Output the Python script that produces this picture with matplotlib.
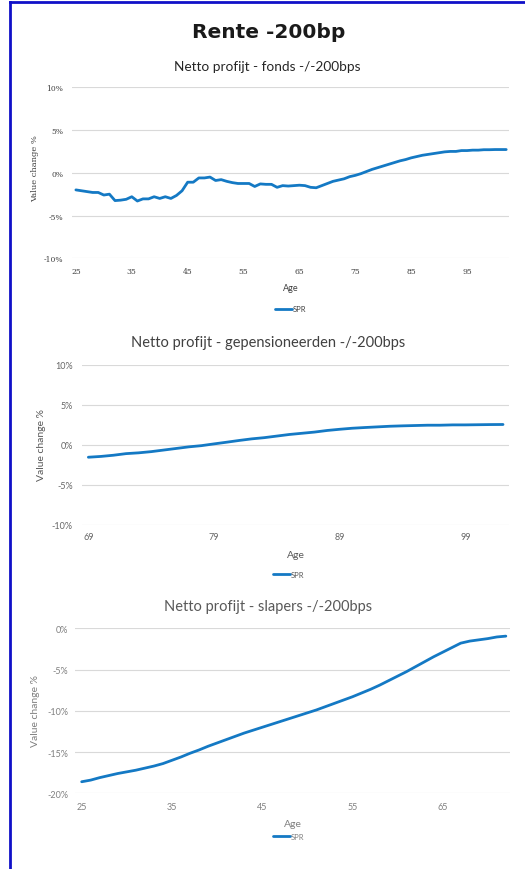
import matplotlib
matplotlib.use("Agg")
from matplotlib import pyplot as plt
from matplotlib.lines import Line2D

# ---- data (value change in %) ----
fonds_age = list(range(25, 103))
fonds_spr = [-2.0, -2.1, -2.2, -2.3, -2.3, -2.6, -2.5, -3.25, -3.2, -3.1,
             -2.8, -3.3, -3.05, -3.05, -2.8, -3.0, -2.8, -3.0, -2.65, -2.1,
             -1.1, -1.1, -0.6, -0.6, -0.5, -0.9, -0.8, -1.0, -1.15, -1.25,
             -1.25, -1.25, -1.6, -1.3, -1.35, -1.35, -1.7, -1.5, -1.55, -1.5,
             -1.45, -1.5, -1.7, -1.75, -1.5, -1.25, -1.0, -0.85, -0.7, -0.45,
             -0.3, -0.1, 0.15, 0.4, 0.6, 0.8, 1.0, 1.2, 1.4, 1.55,
             1.75, 1.9, 2.05, 2.15, 2.25, 2.35, 2.45, 2.5, 2.5, 2.6,
             2.6, 2.65, 2.65, 2.7, 2.7, 2.72, 2.72, 2.72]
fonds_xticks = [25, 35, 45, 55, 65, 75, 85, 95]

gep_age = list(range(69, 103))
gep_spr = [-1.55, -1.45, -1.3, -1.1, -1.0, -0.85, -0.65, -0.45, -0.25, -0.1,
           0.12, 0.33, 0.55, 0.75, 0.9, 1.1, 1.3, 1.45, 1.6, 1.8,
           1.95, 2.08, 2.17, 2.25, 2.33, 2.38, 2.42, 2.46, 2.46, 2.5,
           2.5, 2.52, 2.54, 2.55]
gep_xticks = [69, 79, 89, 99]

slap_age = list(range(25, 73))
slap_spr = [-18.6, -18.4, -18.1, -17.85, -17.6, -17.4, -17.2, -16.95, -16.7, -16.4,
            -16.0, -15.6, -15.15, -14.75, -14.3, -13.9, -13.5, -13.1, -12.7, -12.35,
            -12.0, -11.65, -11.3, -10.95, -10.6, -10.25, -9.9, -9.5, -9.1, -8.7,
            -8.3, -7.85, -7.4, -6.9, -6.35, -5.8, -5.25, -4.65, -4.05, -3.45,
            -2.9, -2.35, -1.8, -1.55, -1.4, -1.25, -1.05, -0.95]
slap_xticks = [25, 35, 45, 55, 65]

yticks_top = [10, 5, 0, -5, -10]
yticks_slap = [0, -5, -10, -15, -20]

W, H = 525, 870
LINE = "#1479c4"
GRID = "#d9d9d9"


def fx(px):
    return px / W


def fy(py):
    return 1 - py / H


def panel(rect_px, ages, values, xticks, yticks, xlim, style):
    """rect_px = (left, top, right, bottom) of the plot area in pixels"""
    l, t, r, b = rect_px
    ax = fig.add_axes([fx(l), fy(b), fx(r - l), (b - t) / H])
    ax.plot(ages, values, color=LINE, lw=2.0, solid_capstyle="round", label="SPR")
    ax.set_xlim(*xlim)
    ax.set_ylim(min(yticks), max(yticks))
    ax.set_yticks(yticks)
    ax.set_yticklabels(["{}%".format(v) for v in yticks])
    ax.set_xticks(xticks)
    ax.set_xticklabels([str(v) for v in xticks])
    ax.grid(axis="y", color=GRID, lw=0.8)
    ax.set_axisbelow(True)
    for s in ax.spines.values():
        s.set_visible(False)
    ax.tick_params(length=0, labelsize=style["tick_size"], labelcolor=style["tick_color"])
    ax.tick_params(axis="y", pad=style["ypad"])
    ax.tick_params(axis="x", pad=style["xpad"])
    for lab in ax.get_xticklabels() + ax.get_yticklabels():
        lab.set_family(style["tick_font"])
    return ax


fig = plt.figure(figsize=(W / 100, H / 100), dpi=100)
fig.patch.set_facecolor("white")

# blue frame (left and top)
fig.add_artist(Line2D([fx(9.5), fx(9.5)], [0, fy(3)], color="#1010c8", lw=2.0))
fig.add_artist(Line2D([fx(9.5), 1], [fy(3), fy(3)], color="#1010c8", lw=2.0))

fig.text(fx(269), fy(32), "Rente -200bp", ha="center", va="center",
         fontsize=14.5, fontweight="bold", family="DejaVu Sans", color="#1a1a1a")

# ---- panel 1: fonds ----
st1 = dict(tick_size=5.5, tick_color="#404040", tick_font="DejaVu Serif", ypad=6, xpad=6)
ax1 = panel((71.7, 88.3, 509, 259.3), fonds_age, fonds_spr, fonds_xticks, yticks_top,
            (24.25, 102.5), st1)
fig.text(fx(267), fy(67), "Netto profijt - fonds -/-200bps", ha="center", va="center",
         fontsize=9.8, family="Lato", color="#262626")
fig.text(fx(35), fy(169), "Value change %", rotation=90, ha="center", va="center",
         fontsize=6, family="DejaVu Serif", color="#404040")
fig.text(fx(291), fy(289), "Age", ha="center", va="center", fontsize=6.5,
         family="Lato", color="#404040")
ax1.legend(loc="center left", bbox_to_anchor=(fx(268), fy(310)), bbox_transform=fig.transFigure,
           frameon=False, handlelength=2.2, handletextpad=0.1,
           prop={"family": "Lato", "size": 5.5}, labelcolor="#404040")

# ---- panel 2: gepensioneerden ----
st2 = dict(tick_size=6.5, tick_color="#666666", tick_font="Lato", ypad=6.5, xpad=5.5)
ax2 = panel((81.7, 366, 509.3, 525.7), gep_age, gep_spr, gep_xticks, yticks_top,
            (68.47, 102.5), st2)
fig.text(fx(268), fy(343), "Netto profijt - gepensioneerden -/-200bps", ha="center", va="center",
         fontsize=10.5, family="Lato", color="#404040")
fig.text(fx(41.7), fy(445), "Value change %", rotation=90, ha="center", va="center",
         fontsize=7.5, family="Lato", color="#595959")
fig.text(fx(296), fy(556), "Age", ha="center", va="center", fontsize=7.5,
         family="Lato", color="#595959")
ax2.legend(loc="center left", bbox_to_anchor=(fx(266), fy(575)), bbox_transform=fig.transFigure,
           frameon=False, handlelength=2.2, handletextpad=0.1,
           prop={"family": "Lato", "size": 5.5}, labelcolor="#595959")

# ---- panel 3: slapers ----
st3 = dict(tick_size=6.5, tick_color="#808080", tick_font="Lato", ypad=5, xpad=6.5)
ax3 = panel((75, 629.3, 510, 794.3), slap_age, slap_spr, slap_xticks, yticks_slap,
            (24.26, 72.46), st3)
fig.text(fx(268), fy(606.7), "Netto profijt - slapers -/-200bps", ha="center", va="center",
         fontsize=10.5, family="Lato", color="#595959")
fig.text(fx(36), fy(711.5), "Value change %", rotation=90, ha="center", va="center",
         fontsize=7.5, family="Lato", color="#808080")
fig.text(fx(293), fy(825), "Age", ha="center", va="center", fontsize=7.5,
         family="Lato", color="#808080")
ax3.legend(loc="center left", bbox_to_anchor=(fx(266), fy(837.3)), bbox_transform=fig.transFigure,
           frameon=False, handlelength=2.2, handletextpad=0.1,
           prop={"family": "Lato", "size": 5.5}, labelcolor="#808080")

fig.savefig("out.png", dpi=100, facecolor="white")
